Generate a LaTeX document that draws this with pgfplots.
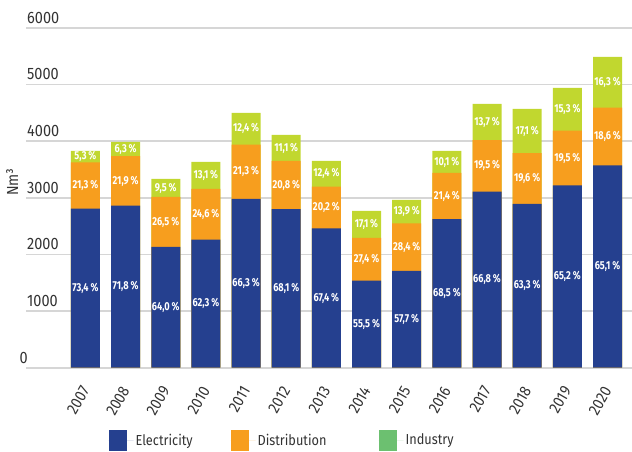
\documentclass[border=0pt]{standalone}
\usepackage{pgfplots}
\pgfplotsset{compat=1.18}
\usepackage{pgfplotstable}
\usepackage{fontspec}
\setmainfont{Fira Sans}
\newfontfamily\tickfont{Fira Sans}[FakeStretch=0.88]
\newfontfamily\barfont{Fira Sans}[FakeStretch=0.8]
\definecolor{elec}{HTML}{25408F}
\definecolor{dist}{HTML}{F79E1E}
\definecolor{ind}{HTML}{C1D72F}
\definecolor{indleg}{HTML}{6CC070}
\definecolor{gridc}{HTML}{D6D6D6}
\definecolor{txt}{HTML}{333333}

\pgfplotstableread{
x e d i pe pd pi
0 2807.6 814.7 202.7 73.4 21.3 5.3
1 2860.5 872.5 251.0 71.8 21.9 6.3
2 2131.8 882.7 316.4 64.0 26.5 9.5
3 2262.1 893.2 475.7 62.3 24.6 13.1
4 2980.8 957.6 557.5 66.3 21.3 12.4
5 2796.9 854.3 455.9 68.1 20.8 11.1
6 2458.8 736.9 452.4 67.4 20.2 12.4
7 1535.1 757.9 473.0 55.5 27.4 17.1
8 1707.9 840.6 411.4 57.7 28.4 13.9
9 2620.1 818.6 386.3 68.5 21.4 10.1
10 3108.9 907.5 637.6 66.8 19.5 13.7
11 2890.3 894.9 780.8 63.3 19.6 17.1
12 3218.9 962.7 755.4 65.2 19.5 15.3
13 3570.1 1020.0 893.9 65.1 18.6 16.3
}\data

\pgfplotsset{
  barlabel/.style={only marks, mark=*, mark size=0pt, mark options={draw=none,fill=none}, forget plot,
    point meta=explicit,
    nodes near coords={\pgfmathprintnumber[fixed,fixed zerofill,precision=1,use comma,assume math mode=true]{\pgfplotspointmeta}\,\%},
    every node near coord/.append style={anchor=center, font=\barfont\bfseries\fontsize{11.5}{12}\selectfont, text=white, inner sep=0pt}},
  mybar/.style={ybar, bar width=29pt, bar shift=0pt, draw=none, forget plot}
}

\begin{document}
\begin{tikzpicture}
\useasboundingbox (-26pt,-83.3pt) rectangle (606pt,367.7pt);
\begin{axis}[
  at={(0,0)}, anchor=south west,
  scale only axis, width=606pt, height=340pt,
  xmin=-1.48, xmax=13.61, ymin=0, ymax=6000,
  axis line style={draw=none},
  major tick length=0pt,
  ymajorgrids, grid style={gridc, line width=1.6pt},
  ytick={0,1000,2000,3000,4000,5000,6000},
  yticklabels={\llap{0},1000,2000,3000,4000,5000,6000},
  yticklabel style={anchor=south west, inner sep=0pt, xshift=1pt, yshift=4pt, font=\tickfont\fontsize{16.5}{18}\selectfont, text=txt},
  xtick={0,1,2,3,4,5,6,7,8,9,10,11,12,13},
  xticklabels={2007,2008,2009,2010,2011,2012,2013,2014,2015,2016,2017,2018,2019,2020},
  xticklabel style={rotate=60, anchor=east, xshift=-14pt, yshift=-10pt, font=\tickfont\fontsize{16}{18}\selectfont, text=txt},
  ylabel={Nm³},
  ylabel style={at={(axis description cs:-0.023,0.546)}, anchor=center, font=\tickfont\fontsize{16}{18}\selectfont, text=txt},
  legend image code/.code={\fill[#1] (0pt,-10.5pt) rectangle (18pt,10.5pt); \path (0pt,0pt) -- (25pt,0pt);},
  legend style={at={(axis description cs:0.131,-0.213)}, anchor=west, draw=none, fill=none,
    legend columns=3, font=\tickfont\fontsize{14.5}{18}\selectfont, text=txt,
    /tikz/every even column/.append style={column sep=0pt}},
  legend cell align=left,
]
\addplot[mybar, fill=ind] table[x=x, y expr=\thisrow{e}+\thisrow{d}+\thisrow{i}] {\data};
\addplot[mybar, fill=dist] table[x=x, y expr=\thisrow{e}+\thisrow{d}] {\data};
\addplot[mybar, fill=elec] table[x=x, y=e] {\data};

\addplot[barlabel] table[x=x, y expr=\thisrow{e}/2, meta=pe] {\data};
\addplot[barlabel] table[x=x, y expr=\thisrow{e}+\thisrow{d}/2, meta=pd] {\data};
\addplot[barlabel] table[x=x, y expr=\thisrow{e}+\thisrow{d}+\thisrow{i}/2, meta=pi] {\data};

\addlegendimage{fill=elec, draw=none}
\addlegendentry{\makebox[93pt][l]{Electricity}}
\addlegendimage{fill=dist, draw=none}
\addlegendentry{\makebox[119pt][l]{Distribution}}
\addlegendimage{fill=indleg, draw=none}
\addlegendentry{Industry}
\end{axis}
\end{tikzpicture}
\end{document}
